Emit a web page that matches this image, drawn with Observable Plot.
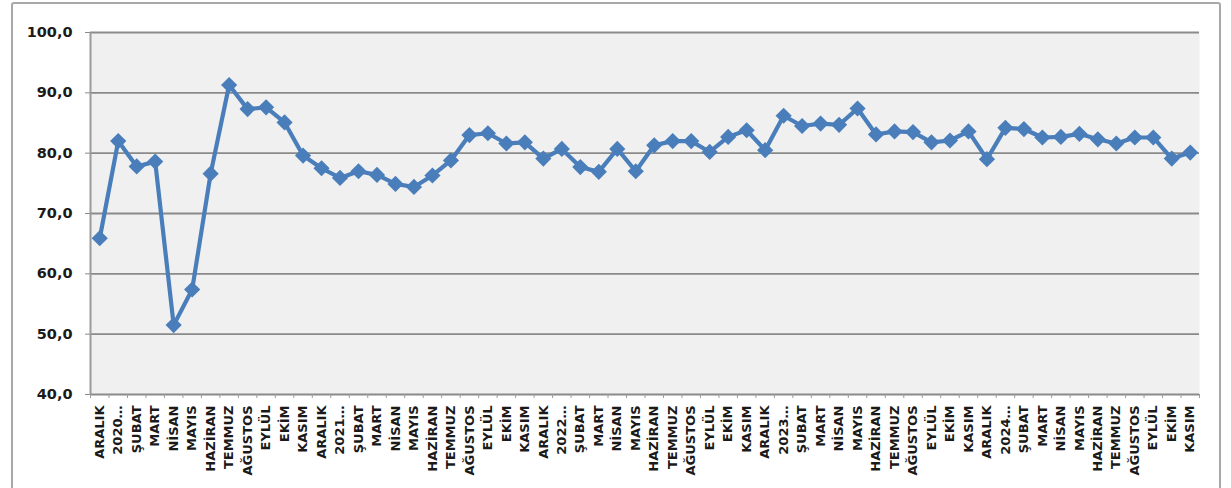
<!DOCTYPE html>
<html>
<head>
<meta charset="utf-8">
<script src="https://cdn.jsdelivr.net/npm/d3@7"></script>
<script src="https://cdn.jsdelivr.net/npm/@observablehq/plot@0.6"></script>
<style>
  html, body { margin: 0; padding: 0; background: #ffffff; }
  #wrap { position: relative; width: 1231px; height: 488px; overflow: hidden; }
  #frame { position: absolute; left: 11px; top: 2px; width: 1206px; height: 520px;
           border: 2.5px solid #a8a8a8; border-radius: 3px; box-sizing: content-box; pointer-events: none; }
</style>
</head>
<body>
<div id="wrap"><div id="frame"></div></div>
<script>
// Category tick labels (Aralık 2019 – Kasım 2024)
const labels = [
  "ARALIK",
  "2020…","ŞUBAT","MART","NİSAN","MAYIS","HAZİRAN","TEMMUZ","AĞUSTOS","EYLÜL","EKİM","KASIM","ARALIK",
  "2021…","ŞUBAT","MART","NİSAN","MAYIS","HAZİRAN","TEMMUZ","AĞUSTOS","EYLÜL","EKİM","KASIM","ARALIK",
  "2022…","ŞUBAT","MART","NİSAN","MAYIS","HAZİRAN","TEMMUZ","AĞUSTOS","EYLÜL","EKİM","KASIM","ARALIK",
  "2023…","ŞUBAT","MART","NİSAN","MAYIS","HAZİRAN","TEMMUZ","AĞUSTOS","EYLÜL","EKİM","KASIM","ARALIK",
  "2024…","ŞUBAT","MART","NİSAN","MAYIS","HAZİRAN","TEMMUZ","AĞUSTOS","EYLÜL","EKİM","KASIM"
];

// Series values
const values = [
  65.9,
  82.0, 77.8, 78.6, 51.5, 57.4, 76.6, 91.3, 87.3, 87.6, 85.1, 79.6, 77.5,
  75.9, 77.0, 76.4, 74.9, 74.4, 76.3, 78.8, 83.0, 83.3, 81.6, 81.8, 79.1,
  80.7, 77.7, 76.9, 80.7, 77.0, 81.3, 82.0, 82.0, 80.2, 82.7, 83.8, 80.5,
  86.2, 84.5, 84.9, 84.7, 87.4, 83.1, 83.6, 83.5, 81.8, 82.1, 83.6, 79.0,
  84.2, 84.0, 82.6, 82.7, 83.2, 82.3, 81.6, 82.6, 82.6, 79.1, 80.1
];

// Y axis ticks
const yTicks = [40, 50, 60, 70, 80, 90, 100];

const data = values.map((v, i) => ({i, v, label: labels[i]}));
const idx = d3.range(labels.length);
const bounds = d3.range(labels.length + 1).map(k => k - 0.5);

const chart = Plot.plot({
  width: 1231,
  height: 488,
  marginLeft: 90,
  marginRight: 32,
  marginTop: 32,
  marginBottom: 94,
  style: {fontFamily: "DejaVu Sans", color: "#1a1a1a", background: "transparent"},
  x: {type: "linear", domain: [-0.5, labels.length - 0.5]},
  y: {domain: [40, 100]},
  marks: [
    Plot.frame({fill: "#f0f0f0", stroke: null}),
    Plot.gridY(yTicks, {stroke: "#8a8a8a", strokeOpacity: 1, strokeWidth: 1.8}),
    Plot.ruleX([-0.5], {stroke: "#9a9a9a", strokeWidth: 2}),
    Plot.axisY(yTicks, {
      tickSize: 5, tickPadding: 13, stroke: "#8a8a8a",
      tickFormat: d => d.toFixed(1).replace(".", ","),
      fontSize: 14.5, fontWeight: "bold", fill: "#1a1a1a", label: null
    }),
    Plot.axisX(bounds, {
      tickSize: 4, stroke: "#9a9a9a", tickFormat: () => "", label: null
    }),
    Plot.axisX(idx, {
      tickSize: 0, tickPadding: 11, tickRotate: -90,
      tickFormat: i => labels[i],
      fontSize: 13, fontWeight: "bold", fill: "#1a1a1a", label: null
    }),
    Plot.line(data, {x: "i", y: "v", stroke: "#4a7ebb", strokeWidth: 4.2, strokeLinejoin: "round"}),
    Plot.dot(data, {x: "i", y: "v", symbol: "diamond2", r: 7.3, fill: "#4a7ebb", stroke: null})
  ]
});
document.getElementById("wrap").prepend(chart);
</script>
</body>
</html>
